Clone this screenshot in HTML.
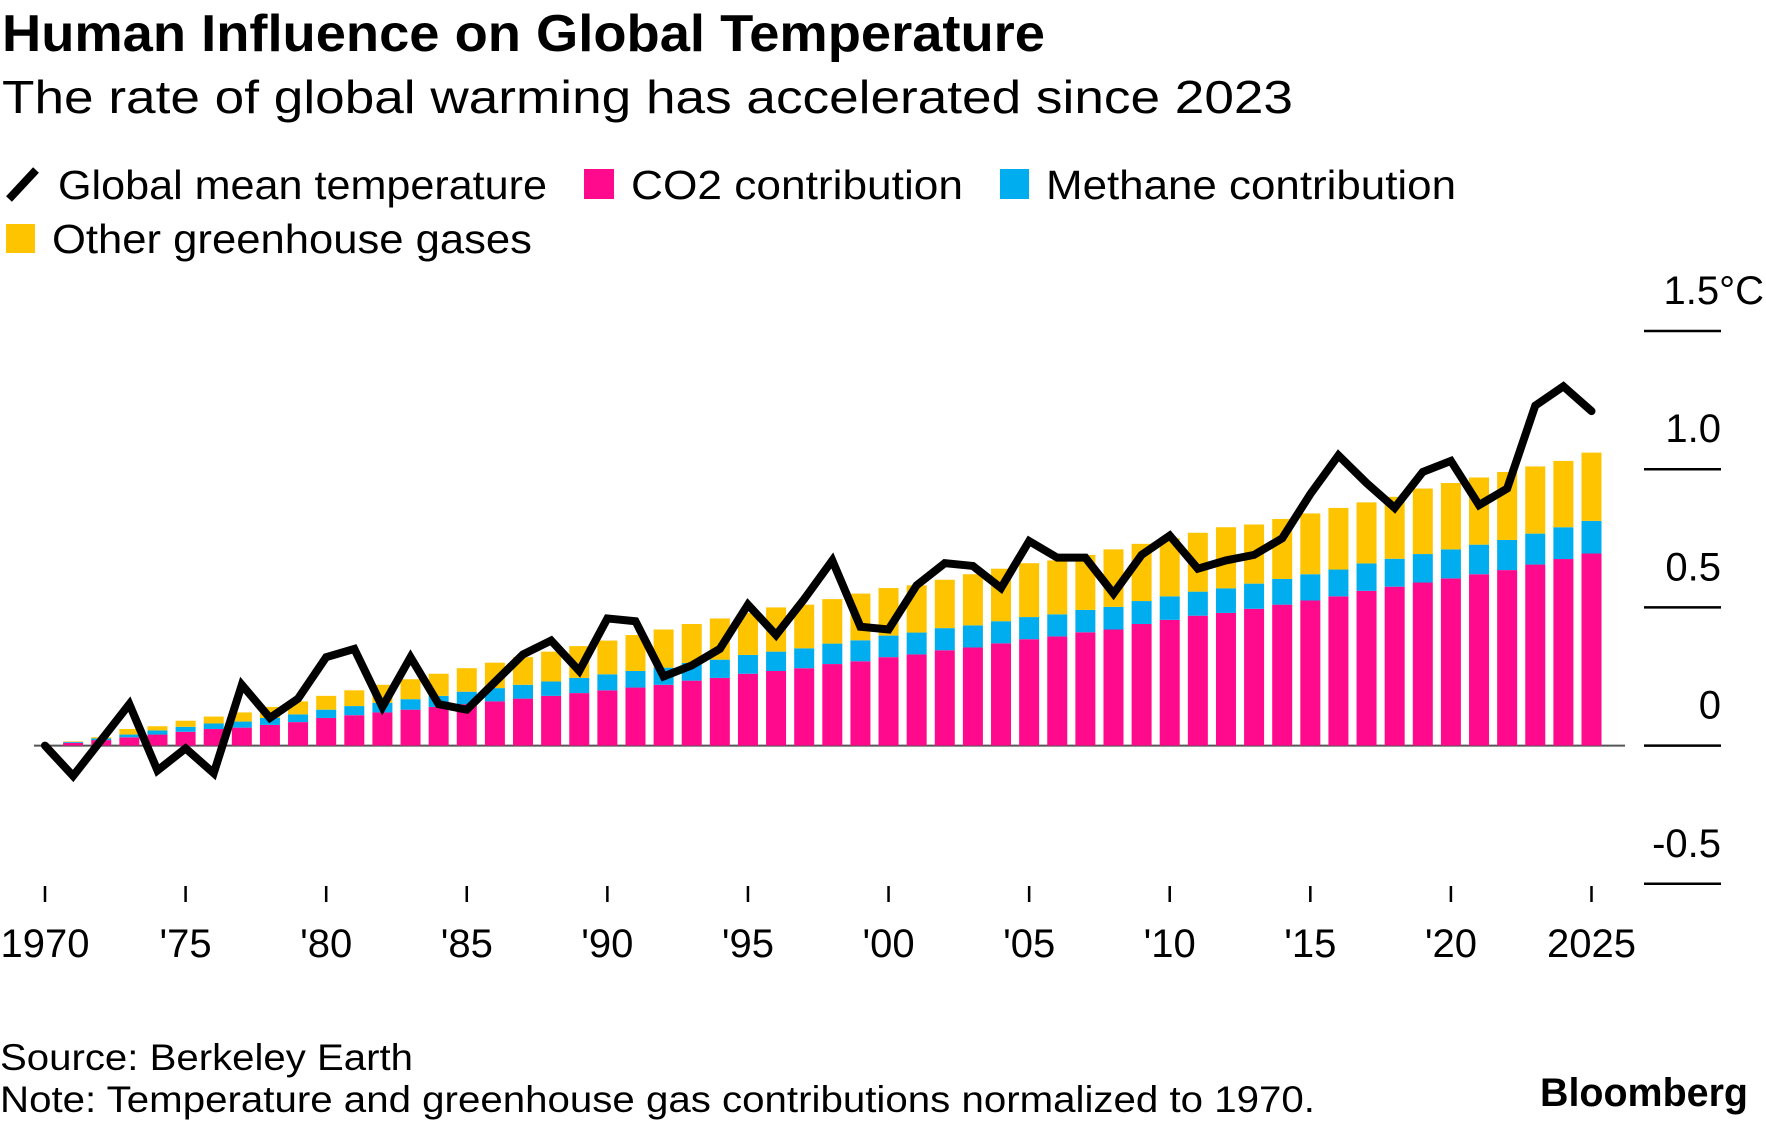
<!DOCTYPE html>
<html><head><meta charset="utf-8"><style>
html,body{margin:0;padding:0;background:#fff;}
svg{display:block;font-family:"Liberation Sans",Arial,sans-serif;}
</style></head><body>
<svg id="chart" width="1766" height="1125" viewBox="0 0 1766 1125" xmlns="http://www.w3.org/2000/svg">
<text x="2" y="51" font-size="52" font-weight="bold" textLength="1043" lengthAdjust="spacingAndGlyphs">Human Influence on Global Temperature</text>
<text x="2" y="113" font-size="46" textLength="1291" lengthAdjust="spacingAndGlyphs">The rate of global warming has accelerated since 2023</text>
<g>
<g>
<line x1="9" y1="199" x2="36" y2="170" stroke="#000" stroke-width="8"/>
<text x="58" y="199" font-size="41" textLength="489" lengthAdjust="spacingAndGlyphs">Global mean temperature</text></g>
<g>
<rect x="584" y="169" width="30" height="30" fill="#ff0a8c"/>
<text x="631" y="199" font-size="41" textLength="332" lengthAdjust="spacingAndGlyphs">CO2 contribution</text></g>
<g>
<rect x="1000" y="169" width="29" height="30" fill="#00aef0"/>
<text x="1046" y="199" font-size="41" textLength="410" lengthAdjust="spacingAndGlyphs">Methane contribution</text></g>
<g>
<rect x="6" y="224" width="29" height="29" fill="#ffc400"/>
<text x="52" y="253" font-size="41" textLength="480" lengthAdjust="spacingAndGlyphs">Other greenhouse gases</text></g>
</g>
<g id="axes"></g>
<g id="bars"></g>
<g id="line"></g>
<text x="0" y="1070" font-size="37" textLength="413" lengthAdjust="spacingAndGlyphs">Source: Berkeley Earth</text>
<text x="0" y="1112" font-size="37" textLength="1315" lengthAdjust="spacingAndGlyphs">Note: Temperature and greenhouse gas contributions normalized to 1970.</text>
<text x="1540" y="1106" font-size="40" font-weight="bold" textLength="208" lengthAdjust="spacingAndGlyphs">Bloomberg</text>
</svg>
<script>
const years=[1970,1971,1972,1973,1974,1975,1976,1977,1978,1979,1980,1981,1982,1983,1984,1985,1986,1987,1988,1989,1990,1991,1992,1993,1994,1995,1996,1997,1998,1999,2000,2001,2002,2003,2004,2005,2006,2007,2008,2009,2010,2011,2012,2013,2014,2015,2016,2017,2018,2019,2020,2021,2022,2023,2024,2025];
const temperature=[0,-0.11,0.02,0.15,-0.09,-0.01,-0.10,0.22,0.10,0.17,0.32,0.35,0.14,0.32,0.15,0.13,0.23,0.33,0.38,0.27,0.46,0.45,0.25,0.29,0.35,0.51,0.40,0.53,0.67,0.43,0.42,0.58,0.66,0.65,0.57,0.74,0.68,0.68,0.55,0.69,0.76,0.64,0.67,0.69,0.75,0.91,1.05,0.95,0.86,0.99,1.03,0.87,0.93,1.23,1.30,1.21];
const co2=[0,0.01,0.02,0.03,0.04,0.05,0.06,0.065,0.075,0.085,0.10,0.11,0.12,0.13,0.14,0.15,0.16,0.17,0.18,0.19,0.20,0.21,0.22,0.235,0.245,0.26,0.27,0.28,0.295,0.305,0.32,0.33,0.345,0.355,0.37,0.385,0.395,0.41,0.42,0.44,0.455,0.47,0.48,0.495,0.51,0.525,0.54,0.56,0.575,0.59,0.605,0.62,0.635,0.655,0.675,0.695];
const methane=[0,0.003,0.006,0.01,0.015,0.018,0.02,0.022,0.025,0.028,0.03,0.033,0.035,0.038,0.04,0.045,0.048,0.05,0.052,0.055,0.058,0.06,0.062,0.064,0.066,0.068,0.07,0.072,0.074,0.076,0.078,0.079,0.08,0.08,0.08,0.08,0.08,0.081,0.082,0.083,0.085,0.087,0.089,0.091,0.093,0.095,0.097,0.099,0.101,0.103,0.105,0.107,0.109,0.112,0.115,0.118];
const other=[0,0.002,0.004,0.02,0.015,0.022,0.025,0.033,0.04,0.047,0.05,0.057,0.065,0.072,0.08,0.085,0.092,0.10,0.108,0.115,0.122,0.13,0.138,0.141,0.149,0.152,0.16,0.158,0.161,0.169,0.172,0.171,0.175,0.185,0.19,0.195,0.195,0.199,0.208,0.207,0.21,0.213,0.221,0.214,0.217,0.22,0.223,0.221,0.224,0.237,0.24,0.243,0.246,0.243,0.24,0.247];
const yTicks=[1.5,1.0,0.5,0,-0.5];
const yTickLabels=["1.5°C","1.0","0.5","0","-0.5"];
const xTicks=[1970,1975,1980,1985,1990,1995,2000,2005,2010,2015,2020,2025];
const xTickLabels=["1970","'75","'80","'85","'90","'95","'00","'05","'10","'15","'20","2025"];

const NS="http://www.w3.org/2000/svg";
function xs(yr){return 45+(yr-1970)*(1591.5-45)/55;}
function ys(v){return 745.6-v*276.4;}
function mk(tag,attrs,parent){const e=document.createElementNS(NS,tag);for(const k in attrs)e.setAttribute(k,attrs[k]);parent.appendChild(e);return e;}
const axes=document.getElementById('axes'),bars=document.getElementById('bars'),lineG=document.getElementById('line');
yTicks.forEach((t,i)=>{
  const g=mk('line',{x1:1644,x2:1721,y1:ys(t),y2:ys(t),stroke:'#000','stroke-width':2.5},axes);
  
  
  const tx=mk('text',{x:(i===0?1764:1721),y:ys(t)-27,'font-size':40,'text-anchor':'end'},axes);
  tx.textContent=yTickLabels[i];
  
  
});
const zl=mk('line',{x1:34,x2:1625,y1:ys(0),y2:ys(0),stroke:'#555','stroke-width':2},axes);


xTicks.forEach((t,i)=>{
  const l=mk('line',{x1:xs(t),x2:xs(t),y1:886,y2:902,stroke:'#000','stroke-width':2.5},axes);
  
  
  const tx=mk('text',{x:xs(t),y:957,'font-size':40,'text-anchor':'middle'},axes);
  tx.textContent=xTickLabels[i];
  
  
});
const bw=20;
years.forEach((yr,i)=>{
  const x=xs(yr)-bw/2;
  const b0=ys(0),b1=ys(co2[i]),b2=ys(co2[i]+methane[i]),b3=ys(co2[i]+methane[i]+other[i]);
  const r1=mk('rect',{x:x,y:b1,width:bw,height:Math.max(0,b0-b1),fill:'#ff0a8c'},bars);
  
  
  const r2=mk('rect',{x:x,y:b2,width:bw,height:Math.max(0,b1-b2),fill:'#00aef0'},bars);
  
  
  const r3=mk('rect',{x:x,y:b3,width:bw,height:Math.max(0,b2-b3),fill:'#ffc400'},bars);
  
  
});
const pts=years.map((yr,i)=>xs(yr)+','+ys(temperature[i])).join(' ');
const pl=mk('polyline',{points:pts,fill:'none',stroke:'#000','stroke-width':8,'stroke-linejoin':'miter','stroke-linecap':'round'},lineG);


</script>
</body></html>
